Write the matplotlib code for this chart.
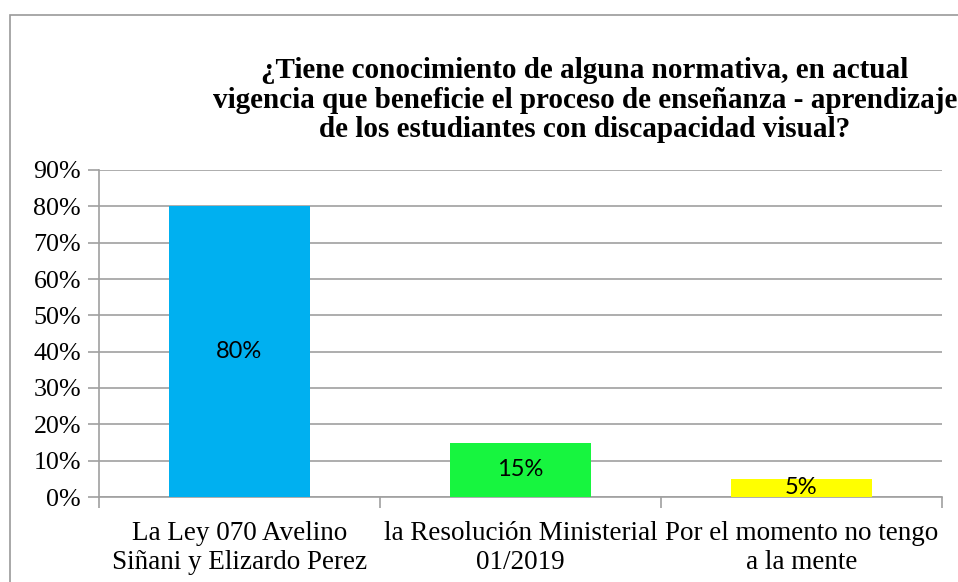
import matplotlib
matplotlib.use("Agg")
import matplotlib.pyplot as plt
from matplotlib.patches import Rectangle
from matplotlib.ticker import MultipleLocator, FuncFormatter

categories = ["La Ley 070 Avelino\nSiñani y Elizardo Perez",
              "la Resolución Ministerial\n01/2019",
              "Por el momento no tengo\na la mente"]
values = [80, 15, 5]
colors = ["#00B0F0", "#17F53F", "#FFFF00"]
title = ("¿Tiene conocimiento de alguna normativa, en actual\n"
         "vigencia que beneficie el proceso de enseñanza - aprendizaje\n"
         "de los estudiantes con discapacidad visual?")

W, H = 958, 582
fig = plt.figure(figsize=(W / 100, H / 100), dpi=100)
serif = "Liberation Serif"
grid_c = "#A0A0A0"

# outer frame
fig.patches.append(Rectangle((10 / W, -0.1), 1.2, 1 - 15 / H + 0.1,
                             transform=fig.transFigure, fill=False,
                             edgecolor="#9A9A9A", linewidth=1.2))

ax = fig.add_axes([99 / W, 1 - 497 / H, (942 - 99) / W, (497 - 170) / H])
x = list(range(len(categories)))
bars = ax.bar(x, values, width=0.5, color=colors, zorder=3)
ax.set_xlim(-0.5, 2.5)
ax.set_ylim(0, 90)
ax.yaxis.set_major_locator(MultipleLocator(10))
ax.yaxis.set_major_formatter(FuncFormatter(lambda v, p: f"{int(round(v))}%"))
ax.grid(axis="y", color=grid_c, linewidth=1.2, zorder=0)
for s in ["top", "right"]:
    ax.spines[s].set_visible(False)
for s in ["left", "bottom"]:
    ax.spines[s].set_color(grid_c)
    ax.spines[s].set_linewidth(1.2)
ax.tick_params(axis="y", length=8, color=grid_c, width=1.2, pad=5,
               labelsize=18.7, labelcolor="black")
for lab in ax.get_yticklabels():
    lab.set_fontfamily(serif)
ax.set_xticks([-0.5, 0.5, 1.5, 2.5], minor=False)
ax.set_xticklabels([])
ax.tick_params(axis="x", which="major", length=8, color=grid_c, width=1.2)
ax.set_xticks(x, minor=True)
ax.set_xticklabels(categories, minor=True, fontfamily=serif, fontsize=19.5,
                   linespacing=1.25)
ax.tick_params(axis="x", which="minor", length=0, pad=17)

for b, v in zip(bars, values):
    ax.text(b.get_x() + b.get_width() / 2, v / 2, f"{v}%", ha="center",
            va="center", fontfamily="Lato", fontsize=17, zorder=4)

fig.text(585 / W, 1 - 100 / H, title, ha="center", va="center",
         fontfamily=serif, fontweight="bold", fontsize=21, linespacing=1.1)

fig.savefig("out.png", dpi=100)
